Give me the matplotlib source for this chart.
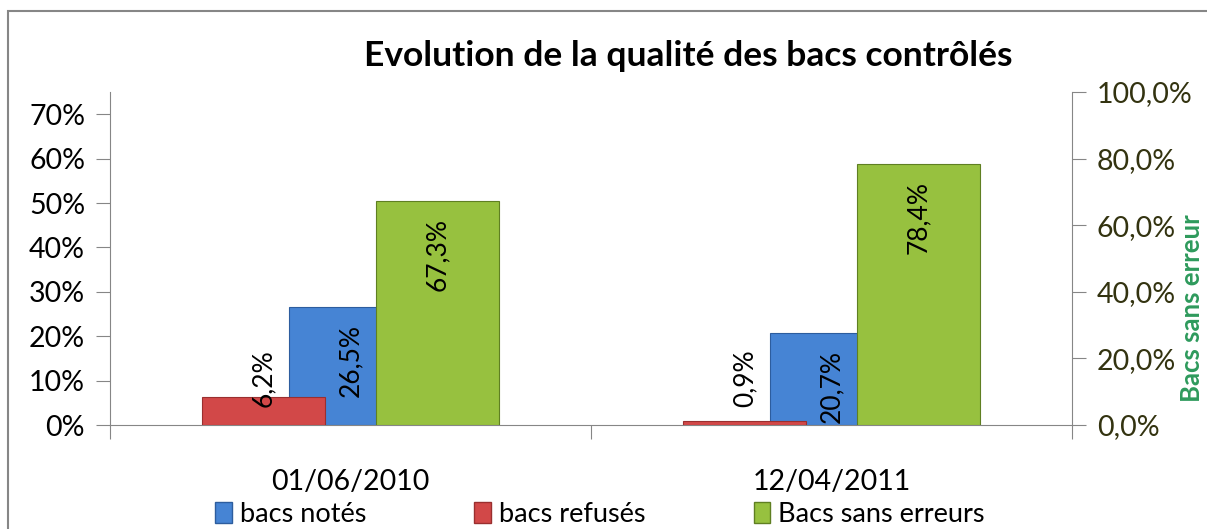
import numpy as np
import matplotlib.pyplot as plt
from matplotlib.patches import Rectangle, Patch

# donnees
dates = ["01/06/2010", "12/04/2011"]
notes = [26.5, 20.7]
refuses = [6.2, 0.9]
sans_erreurs = [67.3, 78.4]

plt.rcParams['font.family'] = ['Lato', 'DejaVu Sans']

fig = plt.figure(figsize=(12.07, 5.29), dpi=100)
ax = fig.add_axes([110/1207, 1 - 425/529, (1072-110)/1207, (425-92)/529])
ax2 = ax.twinx()

x = np.arange(len(dates))
w = 0.256
gris = "#868686"
bleu, bleu_b = "#4684d4", "#2d5d9e"
rouge, rouge_b = "#d24848", "#9a2f2f"
vert, vert_b = "#97c13f", "#5f7f22"

# barres (bleu derriere, rouge devant, vert sur l'axe secondaire)
ax.bar(x, notes, w, color=bleu, edgecolor=bleu_b, linewidth=0.8, zorder=2)
ax.bar(x - 0.18, refuses, w, color=rouge, edgecolor=rouge_b, linewidth=0.8, zorder=3)
ax2.bar(x + 0.18, sans_erreurs, w, color=vert, edgecolor=vert_b, linewidth=0.8, zorder=3)

# etiquettes
fs_lab = 19
for xi, v in zip(x, refuses):
    ax.text(xi - 0.18, 4.0, f"{v:.1f}%".replace(".", ","), rotation=90,
            ha="center", va="bottom", fontsize=fs_lab, color="black", zorder=5)
for xi, v in zip(x, notes):
    ax.annotate(f"{v:.1f}%".replace(".", ","), (xi, v), xytext=(0, -12),
                textcoords="offset points", rotation=90, ha="center", va="top",
                fontsize=fs_lab, color="black", zorder=5)
for xi, v in zip(x, sans_erreurs):
    ax2.annotate(f"{v:.1f}%".replace(".", ","), (xi + 0.18, v), xytext=(0, -12),
                 textcoords="offset points", rotation=90, ha="center", va="top",
                 fontsize=fs_lab, color="black", zorder=5)

ax.set_xlim(-0.5, 1.5)
ax.set_ylim(0, 75)
ax2.set_ylim(0, 100)

fs = 20.5
ax.set_yticks(np.arange(0, 71, 10))
ax.set_yticklabels([f"{t}%" for t in range(0, 71, 10)], fontsize=fs)
ax2.set_yticks(np.arange(0, 101, 20))
ax2.set_yticklabels([f"{t},0%" for t in range(0, 101, 20)], fontsize=fs, color="#333310")

ax.set_xticks([-0.5, 0.5, 1.5])
ax.set_xticklabels([])
ax.set_xticks(x, minor=True)
ax.set_xticklabels(dates, minor=True, fontsize=fs)
ax.tick_params(axis="x", which="minor", length=0, pad=32)
ax.tick_params(axis="x", which="major", length=10, color=gris, direction="out")
ax.tick_params(axis="y", length=10, color=gris, pad=8)
ax2.tick_params(axis="y", length=10, color=gris, pad=8)

for a in (ax, ax2):
    a.spines["top"].set_visible(False)
    for s in ("left", "right", "bottom"):
        a.spines[s].set_color(gris)
ax.spines["right"].set_visible(False)
ax2.spines["left"].set_visible(False)
ax2.spines["bottom"].set_visible(False)

# titre de l'axe secondaire
fig.text(1192/1207, 1 - 308/529, "Bacs sans erreur", rotation=90,
         ha="center", va="center", color="#2e9a5c", fontsize=18.5, fontweight="bold")

fig.text(688/1207, 1 - 56/529, "Evolution de la qualité des bacs contrôlés",
         ha="center", va="center", fontsize=25.5, fontweight="bold")

# legende
handles = [Patch(facecolor=bleu, edgecolor=bleu_b),
           Patch(facecolor=rouge, edgecolor=rouge_b),
           Patch(facecolor=vert, edgecolor=vert_b)]
fig.legend(handles, ["bacs notés", "bacs refusés", "Bacs sans erreurs"],
           loc="center", bbox_to_anchor=(0.497, 0.028), ncol=3, frameon=False,
           fontsize=19.5, handlelength=0.6, handleheight=0.8, handletextpad=0.3,
           columnspacing=4.0)

# cadre du graphique
fig.patches.append(Rectangle((8/1207, -0.1), 1.2, 1 - 11/529 + 0.1,
                             transform=fig.transFigure, fill=False,
                             edgecolor=gris, linewidth=1.5))

fig.savefig("out.png", dpi=100)
